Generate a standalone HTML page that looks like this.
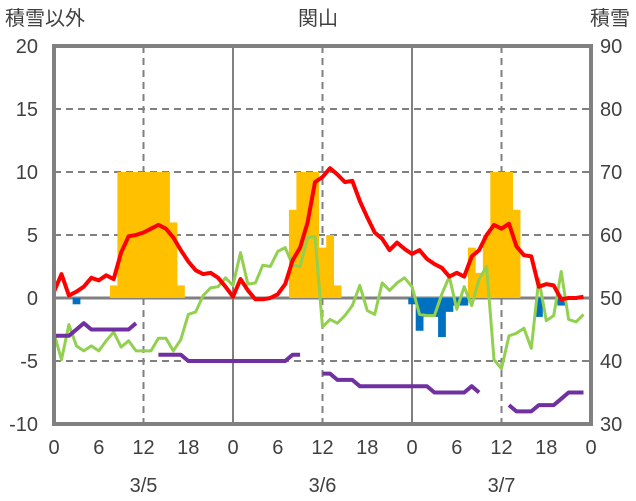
<!DOCTYPE html>
<html><head><meta charset="utf-8"><style>
html,body{margin:0;padding:0;background:#fff;}
svg{display:block;font-family:"Liberation Sans","Noto Sans CJK JP",sans-serif;}
</style></head><body>
<svg id="chart" width="636" height="501" viewBox="0 0 636 501" xmlns="http://www.w3.org/2000/svg">
<text x="5" y="25" font-size="20" fill="#404040">積雪以外</text>
<text x="318" y="25" font-size="20" fill="#404040" text-anchor="middle">関山</text>
<text x="630" y="25" font-size="20" fill="#404040" text-anchor="end">積雪</text>
<g id="grid"></g><g id="bars"></g><g id="lines"></g><g id="frame"></g><g id="labels"></g>
</svg>
<script>
const hours = Array.from({length:72},(_,i)=>i);
const precipHours = [8,9,10,11,12,13,14,15,16,17,32,33,34,35,36,37,38,56,57,58,59,60,61,62];
const precipValues = [1,10,10,10,10,10,10,10,6,1,7,10,10,10,4,5,1,4,2,5,10,10,10,7];
const negHours = [3,48,49,50,51,52,53,54,55,65,68];
const negValues = [-0.5,-0.5,-2.6,-1.5,-1.5,-3.1,-1.1,-0.6,-0.6,-1.5,-0.6];
const redValues = [0.5,1.9,0.2,0.5,0.9,1.6,1.4,1.8,1.5,3.6,4.9,5.0,5.2,5.5,5.8,5.5,4.8,3.8,2.9,2.2,1.9,2.0,1.6,0.9,
 0.1,1.5,0.6,-0.1,-0.1,0,0.3,1.1,3.0,4.0,6.0,9.2,9.6,10.3,9.8,9.2,9.3,7.7,6.4,5.2,4.7,3.8,4.4,3.9,
 3.5,3.8,3.1,2.7,2.4,1.7,2.0,1.7,3.3,3.8,5.0,5.8,5.5,5.9,4.1,3.4,3.3,0.9,1.1,1.0,-0.1,0,0,0.1];
const greenValues = [-2.8,-4.9,-2.1,-3.8,-4.2,-3.8,-4.2,-3.4,-2.7,-3.9,-3.4,-4.2,-4.2,-4.2,-3.2,-3.2,-4.2,-3.3,-1.3,-1.1,0.2,0.8,0.9,1.6,
 1.0,3.6,1.1,1.2,2.6,2.5,3.7,4.0,2.6,2.5,4.8,4.9,-2.3,-1.7,-2.0,-1.4,-0.6,1.0,-1.0,-1.3,1.2,0.6,1.2,1.6,
 0.9,-1.3,-1.4,-1.4,0.3,1.7,-0.9,0.9,-0.6,1.5,2.5,-4.9,-5.6,-3.0,-2.8,-2.4,-4.0,1.5,-1.8,-1.4,2.1,-1.7,-1.9,-1.3];
const purpleValues = [44,44,44,45,46,45,45,45,45,45,45,46,null,null,41,41,41,41,40,40,40,40,40,40,
 40,40,40,40,40,40,40,40,41,41,null,null,38,38,37,37,37,36,36,36,36,36,36,36,
 36,36,36,35,35,35,35,35,36,35,null,null,null,33,32,32,32,33,33,33,34,35,35,35];
const leftTicks = [20,15,10,5,0,-5,-10];
const rightTicks = [90,80,70,60,50,40,30];
const xTickLabels = ["0","6","12","18","0","6","12","18","0","6","12","18","0"];
const dateLabels = ["3/5","3/6","3/7"];

const NS="http://www.w3.org/2000/svg";
const X0=54,X1=591,ZERO=298,UNIT=12.6;
const xs=h=>X0+h*(X1-X0)/72;
const yl=v=>ZERO-v*UNIT;
const yr=v=>yl((v-50)/2);
function mk(tag,parent,attrs){const e=document.createElementNS(NS,tag);for(const k in attrs)e.setAttribute(k,attrs[k]);document.getElementById(parent).appendChild(e);return e;}

// grid
leftTicks.forEach(t=>{if(t!==0&&t!==20&&t!==-10){const l=mk('line','grid',{x1:X0,x2:X1,y1:yl(t),y2:yl(t),stroke:'#808080','stroke-width':2,'stroke-dasharray':'7,5'});

}});
for(let i=1;i<12;i++){const h=i*6;if(h%12!==0)continue;const solid=h%24===0;
const l=mk('line','grid',{x1:xs(h),x2:xs(h),y1:yl(20),y2:yl(-10),stroke:'#808080','stroke-width':2,'stroke-dasharray':solid?'none':'7,5'});

}
// bars
const bw=(X1-X0)/72;
precipHours.forEach((h,i)=>{const v=precipValues[i];const r=mk('rect','bars',{x:xs(h)-bw/2,y:yl(v),width:bw+0.3,height:yl(0)-yl(v),fill:'#FFC000'});

});
negHours.forEach((h,i)=>{const v=negValues[i];const r=mk('rect','bars',{x:xs(h)-bw/2,y:yl(0),width:bw+0.3,height:yl(v)-yl(0),fill:'#0070C0'});

});
// zero line
const z=mk('line','grid',{x1:X0,x2:X1,y1:yl(0),y2:yl(0),stroke:'#808080','stroke-width':3});


// lines
function series(vals,fy,color,w,name){let segs=[],cur=[];vals.forEach((v,i)=>{if(v===null){if(cur.length)segs.push(cur);cur=[];}else cur.push(xs(hours[i]).toFixed(1)+','+fy(v).toFixed(1));});if(cur.length)segs.push(cur);
segs.forEach(s=>{const p=mk('polyline','lines',{points:s.join(' '),fill:'none',stroke:color,'stroke-width':w,'stroke-linejoin':'round'});

});}
series(greenValues,yl,'#92D050',3,'green-series-line');
series(purpleValues,yr,'#7030A0',4,'snow-depth-line');
series(redValues,yl,'#FF0000',4,'red-series-line');
// frame
const f=mk('rect','frame',{x:X0,y:yl(20),width:X1-X0,height:yl(-10)-yl(20),fill:'none',stroke:'#808080','stroke-width':4});


// labels
leftTicks.forEach(t=>{const e=mk('text','labels',{x:38,y:yl(t)+7,'font-size':20,fill:'#404040','text-anchor':'end'});e.textContent=t;

});
rightTicks.forEach(t=>{const e=mk('text','labels',{x:600,y:yl((t-50)/2)+7,'font-size':20,fill:'#404040'});e.textContent=t;

});
xTickLabels.forEach((t,i)=>{const e=mk('text','labels',{x:xs(i*6),y:454,'font-size':20,fill:'#404040','text-anchor':'middle'});e.textContent=t;

});
dateLabels.forEach((t,i)=>{const e=mk('text','labels',{x:xs(i*24+12),y:492,'font-size':20,fill:'#404040','text-anchor':'middle'});e.textContent=t;

});
</script>
</body></html>
